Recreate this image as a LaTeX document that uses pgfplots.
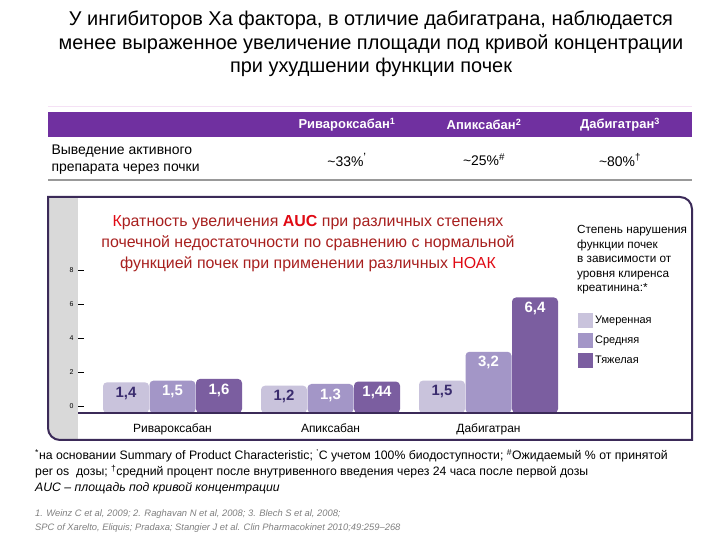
\documentclass[border=0pt]{standalone}
\usepackage{pgfplots}
\pgfplotsset{compat=1.18}
\usepackage{pgfplotstable}
\usepackage{fontspec}
\setmainfont{Liberation Sans}

\definecolor{hdr}{HTML}{7030A0}
\definecolor{boxc}{HTML}{3B2A58}
\definecolor{barA}{HTML}{C9C3DC}
\definecolor{barB}{HTML}{A396C7}
\definecolor{barC}{HTML}{7B5EA0}
\definecolor{lbl}{HTML}{3A2C6E}
\definecolor{redA}{HTML}{A8201F}
\definecolor{redB}{HTML}{E00A14}
\definecolor{strip}{HTML}{D9D9D9}

% AUC fold increase: mild / moderate / severe renal impairment
\pgfplotstableread{
x  y    lbl
0  1.4  1,4
1  1.2  1,2
2  1.5  1,5
}\mild
\pgfplotstableread{
x  y    lbl
0  1.5  1,5
1  1.3  1,3
2  3.2  3,2
}\moder
\pgfplotstableread{
x  y    lbl
0  1.6  1,6
1  1.44 1,44
2  6.4  6,4
}\severe

\begin{document}
\begin{tikzpicture}[x=1bp, y=1bp]
\useasboundingbox (0,0) rectangle (720,540);
\fill[white] (0,0) rectangle (720,540);

% title
\node[align=center, font=\fontsize{20}{23.5}\selectfont] at (371,496)
  {У ингибиторов Ха фактора, в отличие дабигатрана, наблюдается\\
   менее выраженное увеличение площади под кривой концентрации\\
   при ухудшении функции почек};
\draw[color={rgb,255:red,245;green,225;blue,245}, line width=1bp] (48,433) -- (692,433);

% header table
\fill[hdr] (48,403) rectangle (692,428);
\begin{scope}[every node/.style={text=white, font=\bfseries\fontsize{13}{15}\selectfont}]
\node at (347,415.5) {Ривароксабан\textsuperscript{1}};
\node at (484,415.5) {Апиксабан\textsuperscript{2}};
\node at (620,415.5) {Дабигатран\textsuperscript{3}};
\end{scope}
\node[anchor=west, align=left, font=\fontsize{14}{17}\selectfont] at (48,380)
  {Выведение активного\\препарата через почки};
\begin{scope}[every node/.style={font=\fontsize{14}{16}\selectfont}]
\node at (347,380) {\textasciitilde33\%\textsuperscript{\large'}};
\node at (484,380) {\textasciitilde25\%\textsuperscript{\#}};
\node at (620,380) {\textasciitilde80\%\textsuperscript{\textdagger}};
\end{scope}
\draw[gray!80, line width=1.2bp] (48,360) -- (692,360);

% chart frame
\def\boxpath{(48,343) -- (680,343) arc[start angle=90, end angle=0, radius=12] -- (692,100) -- (60,100) arc[start angle=270, end angle=180, radius=12] -- cycle}
\begin{scope}
\clip \boxpath;
\fill[strip] (40,90) rectangle (78,350);
\end{scope}
\draw[boxc, line width=2bp] \boxpath;

\begin{axis}[
  at={(78bp,127bp)}, anchor=south west,
  x=158bp, y=16.96bp,
  xmin=-0.5981, xmax=3.288,
  ymin=-0.41, ymax=12.385,
  y coord trafo/.code={\pgfmathparse{#1+0.41}},
  y coord inv trafo/.code={\pgfmathparse{#1-0.41}},
  enlargelimits=false,
  axis x line=bottom, axis y line=left,
  axis line style={-},
  x axis line style={boxc, line width=2bp},
  y axis line style={draw=none},
  axis on top,
  clip=false,
  xtick={0,1,2},
  xticklabels={Ривароксабан, Апиксабан, Дабигатран},
  xtick style={draw=none},
  xticklabel style={font=\fontsize{12}{13}\selectfont, yshift=-1bp},
  ytick={0,2,4,6,8},
  yticklabels={0,2,4,6,8},
  ytick style={black, line width=0.7bp},
  tick align=inside,
  major tick length=6bp,
  yticklabel style={font=\fontsize{7}{8}\selectfont, xshift=-1bp},
  ybar=0.5bp, bar width=46bp,
  point meta=explicit symbolic,
  nodes near coords,
  nodes near coords align={anchor=north},
  every node near coord/.append style={font=\bfseries\fontsize{15}{16}\selectfont, inner sep=1bp, yshift=-3.5bp},
  sq/.style={legend image code/.code={\fill[##1, sharp corners] (0bp,-7.5bp) rectangle (15bp,7.5bp);}},
  legend style={at={(0.8143,0.4608)}, anchor=north west, draw=none, fill=none,
    inner sep=0pt, row sep=5bp, font=\fontsize{11}{12}\selectfont,
    /tikz/every even column/.append style={column sep=2bp}},
  legend cell align=left,
]
\addplot[sq, fill=barA, draw=none, rounded corners=4bp,
  every node near coord/.append style={text=lbl}]
  table[x=x, y=y, meta=lbl] {\mild};
\addlegendentry{Умеренная}
\addplot[sq, fill=barB, draw=none, rounded corners=4bp,
  every node near coord/.append style={text=white}]
  table[x=x, y=y, meta=lbl] {\moder};
\addlegendentry{Средняя}
\addplot[sq, fill=barC, draw=none, rounded corners=4bp,
  every node near coord/.append style={text=white}]
  table[x=x, y=y, meta=lbl] {\severe};
\addlegendentry{Тяжелая}
\end{axis}

% chart heading
\node[align=center, text=redA, font=\fontsize{16}{21}\selectfont] at (308,296)
  {{\color{redB}К}ратность увеличения {\color{redB}\bfseries AUC} при различных степенях\\
   почечной недостаточности по сравнению с нормальной\\
   функцией почек при применении различных {\color{redB}НОАК}};

% legend heading
\node[anchor=north west, align=left, inner sep=0pt, font=\fontsize{11.8}{14.7}\selectfont] at (577,315)
  {Степень нарушения\\функции почек\\в зависимости от\\уровня клиренса\\креатинина:*};

% footnotes
\begin{scope}[every node/.style={anchor=base west, inner sep=0pt, font=\fontsize{12.3}{13}\selectfont}]
\node at (35,80) {\textsuperscript{*}на основании Summary of Product Characteristic; \textsuperscript{'}С учетом 100\% биодоступности; \textsuperscript{\#}Ожидаемый \% от принятой};
\node at (35,64) {per os\ \ дозы; \textsuperscript{\textdagger}средний процент после внутривенного введения через 24 часа после первой дозы};
\node at (35,48) {\itshape AUC – площадь под кривой концентрации};
\end{scope}
\begin{scope}[every node/.style={anchor=base west, inner sep=0pt, text=gray, font=\itshape\fontsize{9.4}{10}\selectfont}]
\node at (35,23) {1. Weinz C et al, 2009; 2. Raghavan N et al, 2008; 3. Blech S et al, 2008;};
\node at (35,9) {SPC of Xarelto, Eliquis; Pradaxa; Stangier J et al. Clin Pharmacokinet 2010;49:259–268};
\end{scope}
\end{tikzpicture}
\end{document}
